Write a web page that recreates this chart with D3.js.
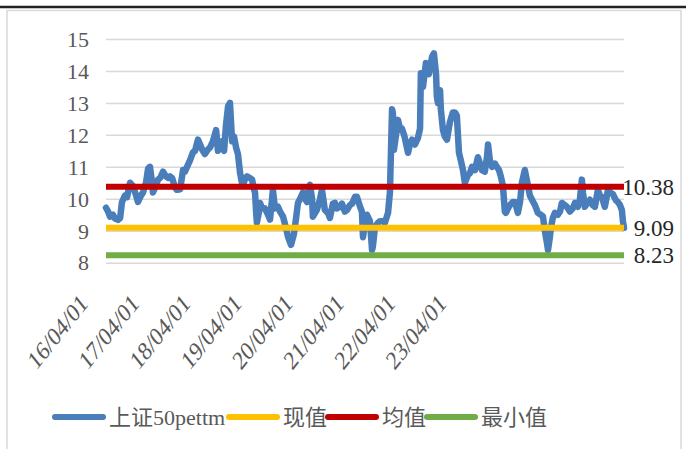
<!DOCTYPE html>
<html><head><meta charset="utf-8">
<script src="https://cdn.jsdelivr.net/npm/d3@7/dist/d3.min.js"></script>
<style>body{margin:0;background:#fff}svg{display:block}</style>
</head><body>
<svg id="c" width="686" height="449"></svg>
<script>
// trading-day index of each sample and the 上证50 PE(TTM) value
const day = [0,8,15,26,34,45,53,60,71,79,90,101,113,120,131,139,150,158,165,173,176,184,195,203,214,225,233,240,248,259,266,278,289,296,304,315,326,334,345,353,360,371,383,390,401,413,420,428,435,443,450,458,465,473,480,488,495,503,510,514,521,529,540,548,555,559,563,566,574,578,585,596,608,615,623,626,634,645,653,664,675,683,694,705,713,720,728,739,746,754,765,773,776,784,791,803,810,821,833,840,851,859,866,878,885,896,904,915,923,934,941,953,960,964,971,979,990,998,1001,1009,1020,1028,1039,1046,1058,1065,1069,1073,1076,1080,1088,1095,1103,1110,1118,1121,1133,1140,1148,1159,1170,1178,1181,1189,1200,1211,1223,1230,1238,1241,1245,1253,1256,1264,1271,1279,1290,1301,1309,1316,1324,1331,1339,1346,1358,1365,1373,1384,1395,1403,1410,1421,1429,1433,1440,1448,1459,1466,1474,1481,1489,1496,1500,1508,1515,1526,1534,1545,1553,1560,1571,1583,1590,1598,1609,1620,1631,1639,1646,1654,1658,1665,1669,1676,1684,1695,1703,1710,1721,1729,1740,1751,1759,1770,1778,1785,1789,1796,1808,1815,1826,1834,1845,1853,1860,1871,1883,1890,1901,1913,1920,1928,1935,1939,1943];
const pe = [9.72,9.6,9.44,9.5,9.38,9.34,9.4,9.9,10.1,10.05,10.5,10.4,10.1,9.9,10.1,10.2,10.5,10.95,11.0,10.5,10.2,10.35,10.6,10.65,10.85,10.7,10.65,10.7,10.65,10.35,10.28,10.3,10.9,10.85,11.0,11.2,11.45,11.5,11.85,11.7,11.55,11.4,11.55,11.6,11.8,12.15,11.5,11.65,11.8,11.5,12.3,12.9,13.0,11.8,11.95,11.6,11.4,10.8,10.5,10.45,10.6,10.7,10.65,10.6,10.3,10.2,9.6,9.25,9.6,9.87,9.7,9.7,9.5,9.35,10.0,10.28,9.7,9.75,9.6,9.44,9.1,8.8,8.56,8.9,9.4,9.87,10.0,10.2,10.0,9.9,10.44,10.0,9.44,9.55,9.65,10.0,10.28,9.65,9.55,9.4,9.85,9.87,9.7,9.75,9.85,9.6,9.65,9.8,9.85,10.06,10.06,9.75,9.6,8.8,9.2,9.5,9.3,8.4,8.5,9.12,9.25,9.3,9.3,9.25,9.56,10.2,11.5,12.8,12.7,11.53,12.0,12.47,12.2,12.2,12.0,11.9,11.44,11.7,11.85,11.7,11.9,12.2,13.93,13.5,14.25,13.9,14.44,14.55,13.9,13.2,13.0,13.4,12.8,12.15,11.95,11.85,12.4,12.7,12.7,12.6,11.44,11.2,10.9,10.5,10.75,10.8,11.0,10.9,11.3,11.1,10.9,10.85,11.3,11.7,11.2,11.0,11.1,11.0,10.9,10.7,10.4,9.6,9.56,9.7,9.8,9.9,9.9,9.56,9.9,10.5,10.9,10.4,10.1,9.97,9.8,9.56,9.5,9.45,9.0,8.62,8.4,8.8,9.1,9.4,9.56,9.5,9.6,9.87,9.8,9.75,9.6,9.7,9.87,9.75,10.0,10.6,10.2,9.75,9.9,9.97,9.8,9.75,10.28,10.1,10.06,9.75,10.28,10.2,10.15,9.95,9.9,9.8,9.65,9.3,9.09];
const current = 9.09, mean = 10.38, minimum = 8.23;
const yTicks = [8,9,10,11,12,13,14,15];
const xTickDays = [0,192,384,576,768,960,1152,1344];
const xTickLabels = ["16/04/01","17/04/01","18/04/01","19/04/01","20/04/01","21/04/01","22/04/01","23/04/01"];
const seriesNames = ["上证50pettm","现值","均值","最小值"];
const colors = ["#4a7ebb","#ffc000","#c00000","#70ad47"];

const svg = d3.select("#c");
const serif = "'Liberation Serif','DejaVu Serif','Noto Sans CJK SC',serif";

// frame
svg.append("line").attr("x1",0).attr("x2",686).attr("y1",7).attr("y2",7).attr("stroke","#222").attr("stroke-width",2.5);
svg.append("path").attr("d","M7,460V10.5H681V460").attr("fill","none").attr("stroke","#d9d9d9").attr("stroke-width",1.5);

const x = d3.scaleLinear().domain([0, d3.max(day)]).range([106, 624]);
const y = d3.scaleLinear().domain([8, 15]).range([262.7, 39]);

// gridlines
const yAxis = d3.axisLeft(y).tickValues(yTicks).tickSize(-(624-106)).tickPadding(17).tickFormat(d3.format("d"));
const gy = svg.append("g").attr("transform","translate(106,0)").call(yAxis);
gy.select(".domain").remove();
gy.selectAll(".tick line").attr("stroke","#d9d9d9").attr("stroke-width",1.5);
gy.selectAll(".tick text").attr("fill","#595959").style("font-family",serif).style("font-size","22px").attr("dy","0.33em");

// x tick labels
const gx = svg.append("g");
gx.selectAll("text").data(xTickDays).join("text")
  .attr("transform",(d)=>`translate(${x(d)-17},${305}) scale(1,1.25) rotate(-45)`)
  .attr("text-anchor","end").attr("fill","#595959")
  .style("font-family",serif).style("font-size","21px")
  .text((d,i)=>xTickLabels[i]);

// series
const pts = day.map((d,i)=>[d,pe[i]]);
const line = d3.line().x(d=>x(d[0])).y(d=>y(d[1]));
svg.append("path").datum(pts).attr("d",line).attr("fill","none").attr("stroke",colors[0]).attr("stroke-width",6.5).attr("stroke-linejoin","round").attr("stroke-linecap","round");
const flat = [current, mean, minimum];
flat.forEach((v,i)=>{
  svg.append("path").datum([[0,v],[d3.max(day),v]]).attr("d",line).attr("fill","none").attr("stroke",colors[i+1]).attr("stroke-width",6);
});
// value labels
[[mean,"10.38"],[current,"9.09"],[minimum,"8.23"]].forEach(([v,t])=>{
  svg.append("text").attr("x",674).attr("y",y(v)).attr("dy","0.35em").attr("text-anchor","end")
    .attr("fill","#262626").style("font-family",serif).style("font-size","23px").text(t);
});

// legend
const legX = [55,229,328,427];
const lg = svg.append("g");
seriesNames.forEach((n,i)=>{
  lg.append("line").attr("x1",legX[i]).attr("x2",legX[i]+48).attr("y1",417).attr("y2",417)
    .attr("stroke",colors[i]).attr("stroke-width",6).attr("stroke-linecap","round");
  lg.append("text").attr("x",legX[i]+54).attr("y",417).attr("dy","0.35em").attr("fill","#595959")
    .style("font-family",serif).style("font-size","22px").text(n);
});
</script>
</body></html>
